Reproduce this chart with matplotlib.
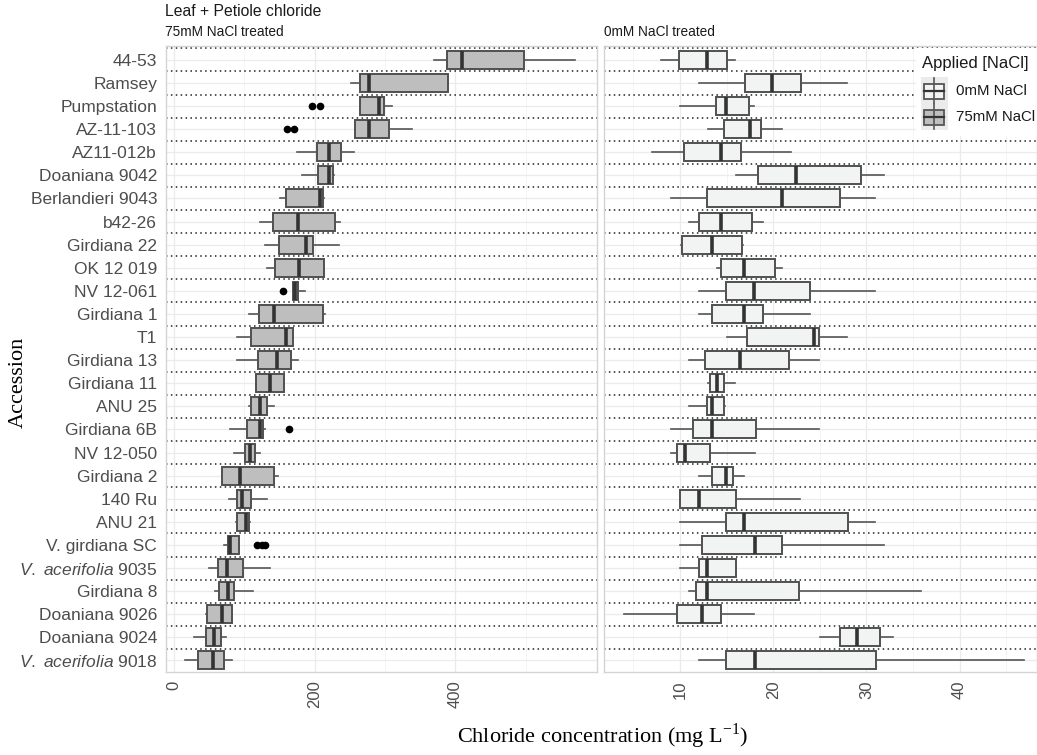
import matplotlib
matplotlib.use('Agg')
import matplotlib.pyplot as plt
from matplotlib.patches import Rectangle

plt.rcParams['font.family'] = ['Liberation Sans', 'DejaVu Sans']
plt.rcParams['mathtext.fontset'] = 'custom'
plt.rcParams['mathtext.it'] = 'Liberation Sans:italic'
plt.rcParams['mathtext.rm'] = 'Liberation Sans'

# accessions, top to bottom
accessions = ["44-53", "Ramsey", "Pumpstation", "AZ-11-103", "AZ11-012b",
              "Doaniana 9042", "Berlandieri 9043", "b42-26", "Girdiana 22",
              "OK 12 019", "NV 12-061", "Girdiana 1", "T1", "Girdiana 13",
              "Girdiana 11", "ANU 25", "Girdiana 6B", "NV 12-050", "Girdiana 2",
              "140 Ru", "ANU 21", "V. girdiana SC", "V. acerifolia 9035",
              "Girdiana 8", "Doaniana 9026", "Doaniana 9024", "V. acerifolia 9018"]

# 75mM NaCl treated (mg/L)
salt_lo = [370, 251, 265, 257, 175, 182, 151, 122, 130, 132, 169, 107, 90, 90,
           117, 106, 79, 85, 69, 78, 88, 71, 50, 58, 45, 29, 16]
salt_q1 = [388, 265, 265, 257, 203, 205, 159, 141, 149, 144, 169, 121, 109, 119,
           117, 109, 104, 101, 69, 89, 90, 77, 63, 64, 47, 45, 34]
salt_med = [409, 278, 292, 278, 221, 221, 208, 176, 188, 178, 172, 142, 160, 146,
            136, 123, 122, 108, 94, 97, 102, 79, 75, 77, 69, 57, 56]
salt_q3 = [498, 390, 298, 306, 237, 226, 212, 229, 198, 214, 176, 212, 169, 167,
           156, 132, 127, 115, 142, 110, 106, 93, 98, 85, 82, 67, 71]
salt_hi = [570, 390, 310, 339, 256, 228, 214, 236, 235, 214, 186, 215, 169, 176,
           156, 142, 129, 123, 148, 133, 108, 93, 136, 113, 82, 74, 82]
salt_out = [[], [], [196, 208], [161, 170], [], [], [], [], [], [], [155], [], [],
            [], [], [], [164], [], [], [], [], [118, 125, 130], [], [], [], [], []]

# 0mM NaCl treated (mg/L)
ctrl_lo = [8.0, 12.0, 10.0, 13.0, 7.0, 16.0, 9.0, 11.0, 10.1, 14.0, 12.0, 12.0,
           15.0, 11.0, 13.05, 11.0, 9.0, 9.0, 12.0, 10.0, 10.0, 10.0, 10.0, 11.0,
           4.0, 25.0, 12.0]
ctrl_q1 = [9.9, 16.95, 13.9, 14.7, 10.4, 18.4, 12.9, 12.0, 10.2, 14.4, 14.9, 13.4,
           17.2, 12.7, 13.2, 12.9, 11.45, 9.7, 13.45, 10.0, 14.9, 12.4, 12.0, 11.7,
           9.7, 27.2, 14.9]
ctrl_med = [12.9, 19.9, 14.9, 17.5, 14.4, 22.4, 20.9, 14.4, 13.4, 16.9, 17.9, 16.9,
            24.4, 16.4, 14.0, 13.4, 13.45, 10.5, 14.9, 12.0, 16.9, 18.0, 12.9, 12.9,
            12.4, 29.0, 18.0]
ctrl_q3 = [15.0, 23.0, 17.45, 18.7, 16.5, 29.4, 27.2, 17.7, 16.7, 20.2, 24.0, 18.9,
           24.9, 21.7, 14.7, 14.7, 18.2, 13.2, 15.7, 16.0, 28.0, 21.0, 16.0, 22.8,
           14.4, 31.5, 31.0]
ctrl_hi = [15.9, 27.9, 17.9, 20.9, 21.9, 31.9, 30.9, 18.9, 16.8, 20.9, 30.9, 23.9,
           27.9, 24.9, 15.9, 14.8, 24.9, 18.0, 16.9, 22.9, 30.9, 31.9, 16.0, 35.9,
           17.9, 32.9, 46.9]

W, H = 1037, 755


def fbox(x0, y0, x1, y1):
    return [x0 / W, 1 - y1 / H, (x1 - x0) / W, (y1 - y0) / H]


def make_stats(lo, q1, med, q3, hi, out=None):
    stats = []
    for i in range(len(lo)):
        stats.append(dict(whislo=lo[i], q1=q1[i], med=med[i], q3=q3[i],
                          whishi=hi[i], fliers=out[i] if out else []))
    return stats


tick_labels = [a.replace("V. acerifolia", r"$\mathit{V.}$ $\mathit{acerifolia}$")
               for a in accessions]
pos = list(range(len(accessions)))

fig = plt.figure(figsize=(10.37, 7.55), dpi=100)
ax1 = fig.add_axes(fbox(165.5, 46, 596.7, 672))
ax2 = fig.add_axes(fbox(604.3, 46, 1037, 672))

panels = [
    (ax1, make_stats(salt_lo, salt_q1, salt_med, salt_q3, salt_hi, salt_out),
     '#bebebe', (-12, 601), [0, 200, 400], [100, 300, 500]),
    (ax2, make_stats(ctrl_lo, ctrl_q1, ctrl_med, ctrl_q3, ctrl_hi),
     '#f2f3f3', (1.89, 48.3), [10, 20, 30, 40], [5, 15, 25, 35, 45]),
]

for ax, stats, fill, xlim, major, minor in panels:
    ax.bxp(stats, positions=pos, orientation='horizontal', widths=0.78,
           patch_artist=True, showcaps=False, manage_ticks=False,
           boxprops=dict(facecolor=fill, edgecolor='#505050', linewidth=1.4),
           medianprops=dict(color='#333333', linewidth=2.6),
           whiskerprops=dict(color='#555555', linewidth=1.2),
           flierprops=dict(marker='o', markerfacecolor='black',
                           markeredgecolor='black', markersize=4.5))
    ax.set_xlim(xlim)
    ax.set_ylim(26.5, -0.6)
    ax.set_xticks(major)
    ax.set_xticks(minor, minor=True)
    ax.set_yticks(pos)
    ax.set_axisbelow(True)
    ax.grid(which='major', color='#ebebeb', linewidth=0.9)
    ax.grid(which='minor', axis='x', color='#f4f4f4', linewidth=0.7)
    for p in pos:
        ax.axhline(p - 0.5, color='#222222', linestyle=(0, (1, 2.2)),
                   linewidth=1.1, zorder=1)
    for s in ax.spines.values():
        s.set_color('#d4d4d4')
        s.set_linewidth(1.0)
    ax.tick_params(which='both', length=0, labelcolor='#4d4d4d', labelsize=12.5,
                   pad=6)
    ax.tick_params(axis='x', labelrotation=90, labelsize=12)

ax1.set_yticklabels(tick_labels)
ax2.set_yticklabels([])

# titles
fig.text(165 / W, 1 - 16 / H, 'Leaf + Petiole chloride', fontsize=11.3,
         va='baseline', color='#1a1a1a')
fig.text(165 / W, 1 - 35.5 / H, '75mM NaCl treated', fontsize=9.8,
         va='baseline', color='#1a1a1a')
fig.text(604.3 / W, 1 - 35.5 / H, '0mM NaCl treated', fontsize=9.8,
         va='baseline', color='#1a1a1a')

fig.text(18 / W, 1 - 382.5 / H, 'Accession', rotation=90, fontsize=16,
         family='Liberation Serif', ha='center', va='center')
fig.text(602 / W, 1 - 736 / H, r'Chloride concentration (mg L$^{\mathregular{-1}}$)',
         fontsize=16, family='Liberation Serif', ha='center', va='center')

# legend
leg = fig.add_axes(fbox(916, 48, 1037, 136))
leg.set_xlim(916, 1037)
leg.set_ylim(136, 48)
leg.set_xticks([])
leg.set_yticks([])
for s in leg.spines.values():
    s.set_visible(False)
leg.set_facecolor('white')
leg.add_patch(Rectangle((921, 77), 27, 53, facecolor='#ebebeb', edgecolor='none'))
leg.text(922, 67.7, 'Applied [NaCl]', fontsize=12, va='baseline', color='#1a1a1a')
for cy, fill, lab in [(91, '#f2f3f3', '0mM NaCl'), (117.3, '#bebebe', '75mM NaCl')]:
    leg.plot([934.5, 934.5], [cy - 13, cy + 12], color='#555555', linewidth=1.2)
    leg.add_patch(Rectangle((924, cy - 7.5), 20.3, 15, facecolor=fill,
                            edgecolor='#555555', linewidth=1.3))
    leg.plot([924, 944.3], [cy, cy], color='#333333', linewidth=1.6)
    leg.text(956, cy, lab, fontsize=10.8, va='center', color='#1a1a1a')

fig.savefig('out.png', dpi=100)
